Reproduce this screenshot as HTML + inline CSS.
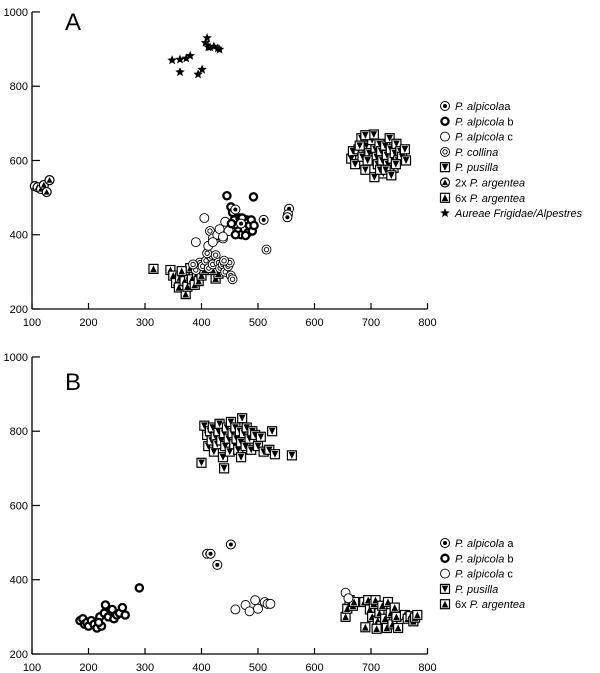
<!DOCTYPE html>
<html><head><meta charset="utf-8"><style>
body{margin:0;background:#fff;}
svg{display:block;font-family:"Liberation Sans",sans-serif;}
</style></head><body>
<svg id="chart" width="600" height="673" xmlns="http://www.w3.org/2000/svg"></svg>
<script>
const xTicks=[100,200,300,400,500,600,700,800];
const yTicks=[200,400,600,800,1000];
// Panel A data
const aStars=[[348,870],[362,872],[373,875],[380,882],[362,838],[394,832],[401,845],[407,917],[410,930],[415,905],[422,907],[429,902],[432,899],[412,905]];
const aArg2=[[105,531],[110,528],[116,523],[121,534],[126,515],[131,547]];
const aPusilla=[[665,605],[668,625],[672,590],[678,630],[683,660],[685,610],[690,575],[692,640],[697,620],[700,600],[702,655],[705,670],[708,630],[710,610],[712,590],[715,645],[718,625],[720,600],[722,565],[725,640],[728,615],[730,590],[733,660],[735,630],[738,605],[740,580],[742,620],[745,645],[748,600],[752,625],[755,610],[760,630],[762,600],[680,640],[694,600],[706,555],[716,575],[726,575],[736,560],[744,590],[690,668]];
const aArg6=[[315,308],[345,305],[350,290],[355,270],[360,258],[362,285],[368,300],[370,275],[372,240],[375,260],[378,290],[380,310],[383,280],[388,265],[392,295],[395,275],[400,290],[405,305],[425,282],[430,295],[420,305],[365,302]];
const aCollina=[[390,305],[397,325],[402,315],[408,330],[413,310],[418,340],[420,320],[425,345],[430,325],[433,310],[438,320],[442,300],[447,315],[452,290],[455,280],[450,325],[410,350],[440,330],[385,320],[515,360],[415,410],[430,405],[425,390]];
const aAlpC=[[390,380],[405,445],[412,370],[420,390],[428,400],[432,415],[438,390],[442,435],[448,410],[420,380],[438,395]];
const aAlpB=[[445,505],[492,502],[452,475],[455,460],[458,440],[462,425],[465,410],[468,445],[470,400],[473,430],[476,415],[480,440],[482,405],[485,425],[488,440],[490,410],[493,425],[460,400],[472,445],[478,398],[453,430]];
const aAlpA=[[510,440],[555,470],[553,455],[552,447],[460,468],[470,430]];
// Panel B data
const bAlpA=[[410,470],[416,470],[428,440],[452,495]];
const bAlpB=[[185,290],[190,295],[193,280],[197,285],[200,275],[205,290],[210,280],[215,270],[220,300],[223,275],[228,310],[230,332],[235,300],[240,315],[245,295],[250,305],[255,310],[260,325],[265,305],[290,378],[242,320],[218,285]];
const bAlpC=[[460,320],[478,332],[485,315],[495,345],[500,322],[512,340],[517,335],[522,335],[655,365],[660,350]];
const bPusilla=[[405,815],[410,790],[412,760],[415,800],[418,775],[420,810],[422,745],[425,785],[428,765],[430,800],[432,820],[435,775],[438,730],[440,795],[442,760],[445,810],[448,780],[450,745],[452,825],[455,795],[458,765],[460,810],[462,780],[465,750],[468,800],[470,770],[472,835],[475,795],[478,760],[480,810],[485,780],[488,750],[490,800],[495,790],[500,760],[505,785],[510,745],[520,750],[525,800],[400,715],[560,735],[440,700],[470,730],[530,738]];
const bArg6=[[655,300],[658,322],[662,345],[668,330],[670,340],[688,340],[690,272],[695,345],[698,320],[702,300],[705,335],[708,345],[712,290],[715,310],[718,275],[720,330],[725,295],[728,270],[730,340],[735,310],[738,280],[742,325],[745,300],[748,270],[760,305],[765,295],[770,302],[775,288],[778,298],[782,305],[710,268]];

const NS='http://www.w3.org/2000/svg';
const svg=document.getElementById('chart');
function el(t,a,p){const e=document.createElementNS(NS,t);for(const k in a)e.setAttribute(k,a[k]);(p||svg).appendChild(e);return e;}

function panel(top,name){
  const g=el('g',{});
  
  
  const y0=top+297;
  const sx=v=>32+(v-100)*0.565;
  const sy=v=>y0-(v-200)*0.3713;
  const ax=el('line',{x1:32,y1:y0,x2:sx(800),y2:y0,stroke:'#000','stroke-width':1.3},g);
  
  const ay=el('line',{x1:32,y1:sy(1000),x2:32,y2:y0,stroke:'#000','stroke-width':1.3},g);
  
  xTicks.forEach(v=>{el('line',{x1:sx(v),y1:y0,x2:sx(v),y2:y0-6,stroke:'#000','stroke-width':1.2},g);
    const t=el('text',{x:sx(v),y:y0+17,'font-size':11,'text-anchor':'middle'},g);t.textContent=v;
    });
  yTicks.forEach(v=>{el('line',{x1:32,y1:sy(v),x2:40,y2:sy(v),stroke:'#000','stroke-width':1.2},g);
    const t=el('text',{x:28,y:sy(v)+4,'font-size':11,'text-anchor':'end'},g);t.textContent=v;
    });
  return {g,sx,sy};
}
function marker(g,type,x,y){
  const m=el('g',{},g);
  
  
  const s=4.5;
  if(type==='star'){const p=[];for(let i=0;i<10;i++){const r=i%2?2.2:5,a=-Math.PI/2+i*Math.PI/5;p.push((x+r*Math.cos(a)).toFixed(1)+','+(y+r*Math.sin(a)).toFixed(1));}el('polygon',{points:p.join(' '),fill:'#000'},m);}
  else if(type==='sqTri'||type==='sqInv'){el('rect',{x:x-s,y:y-s,width:2*s,height:2*s,fill:'#fff',stroke:'#000','stroke-width':1.2},m);
    if(type==='sqTri')el('polygon',{points:`${x},${y-3.5} ${x-3.3},${y+3.3} ${x+3.3},${y+3.3}`,fill:'#000'},m);
    else el('polygon',{points:`${x-3.3},${y-3.3} ${x+3.3},${y-3.3} ${x},${y+3.5}`,fill:'#000'},m);}
  else if(type==='cirTri'){el('circle',{cx:x,cy:y,r:s,fill:'#fff',stroke:'#000','stroke-width':1.2},m);el('polygon',{points:`${x},${y-3.2} ${x-3},${y+2.6} ${x+3},${y+2.6}`,fill:'#000'},m);}
  else if(type==='alpA'){el('circle',{cx:x,cy:y,r:s,fill:'#fff',stroke:'#000','stroke-width':1},m);el('circle',{cx:x,cy:y,r:2,fill:'#000'},m);}
  else if(type==='alpB'){el('circle',{cx:x,cy:y,r:3.6,fill:'#fff',stroke:'#000','stroke-width':2.3},m);}
  else if(type==='alpC'){el('circle',{cx:x,cy:y,r:s,fill:'#fff',stroke:'#000','stroke-width':0.9},m);}
  else if(type==='collina'){el('circle',{cx:x,cy:y,r:s,fill:'#fff',stroke:'#000','stroke-width':0.9},m);el('circle',{cx:x,cy:y,r:2.2,fill:'none',stroke:'#000','stroke-width':0.9},m);}
}
function series(P,arr,type){arr.forEach(d=>marker(P.g,type,P.sx(d[0]),P.sy(d[1])));}
function legend(P,items,x,y0,dy){items.forEach((it,i)=>{const y=y0+i*dy;marker(P.g,it[0],x,y);
  const t=el('text',{x:x+10,y:y+4,'font-size':11},P.g);
  it[1].forEach(s=>{const ts=el('tspan',{},t);if(s[1])ts.setAttribute('font-style','italic');ts.textContent=s[0];});});}

const A=panel(12,'panel-a');
const ta=el('text',{x:65,y:30,'font-size':24},A.g);ta.textContent='A';
series(A,aStars,'star');series(A,aArg2,'cirTri');series(A,aPusilla,'sqInv');series(A,aArg6,'sqTri');
series(A,aCollina,'collina');series(A,aAlpC,'alpC');series(A,aAlpB,'alpB');series(A,aAlpA,'alpA');
legend(A,[['alpA',[['P. alpicola',1],['a',0]]],['alpB',[['P. alpicola',1],['  b',0]]],['alpC',[['P. alpicola',1],['  c',0]]],['collina',[['P. collina',1]]],['sqInv',[['P. pusilla',1]]],['cirTri',[['2x ',0],['P. argentea',1]]],['sqTri',[['6x ',0],['P. argentea',1]]],['star',[['Aureae Frigidae/Alpestres',1]]]],445,106,15.3);

const B=panel(357,'panel-b');
const tb=el('text',{x:65,y:390,'font-size':24},B.g);tb.textContent='B';
series(B,bPusilla,'sqInv');series(B,bArg6,'sqTri');series(B,bAlpC,'alpC');series(B,bAlpB,'alpB');series(B,bAlpA,'alpA');
legend(B,[['alpA',[['P. alpicola',1],['  a',0]]],['alpB',[['P. alpicola',1],['  b',0]]],['alpC',[['P. alpicola',1],['  c',0]]],['sqInv',[['P. pusilla',1]]],['sqTri',[['6x ',0],['P. argentea',1]]]],445,543,15.3);
</script>
</body></html>
